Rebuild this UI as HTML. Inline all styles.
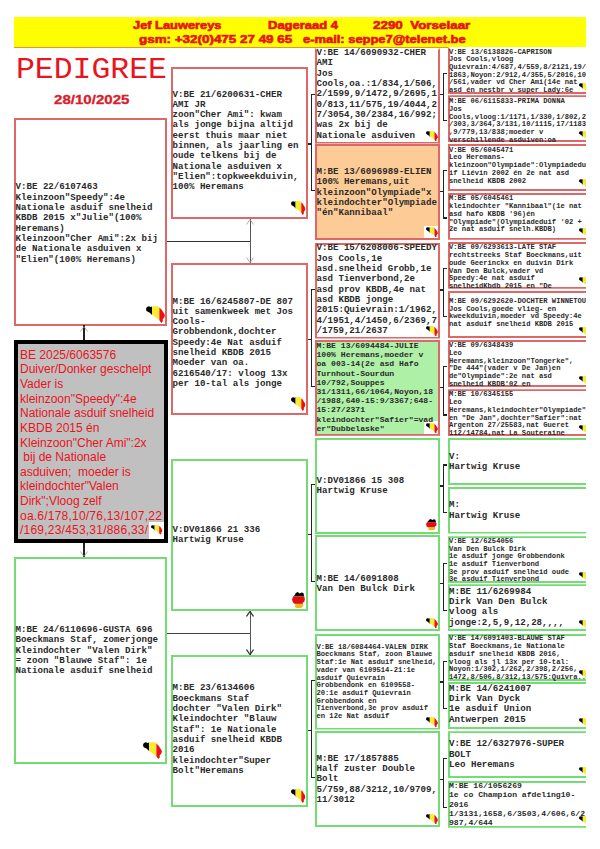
<!DOCTYPE html>
<html><head><meta charset="utf-8">
<style>
html,body{margin:0;padding:0;background:#fff;width:600px;height:849px;overflow:hidden;position:relative}
.a{position:absolute}
.hdr{position:absolute;left:14px;top:17px;width:572px;height:30.5px;background:#ffff00;border-bottom:1.5px solid #f29030;box-sizing:border-box}
.ht{position:absolute;font-family:"Liberation Sans",sans-serif;font-weight:bold;font-size:11.5px;color:#e81414;white-space:pre;transform-origin:0 0;line-height:13px;-webkit-text-stroke:0.65px #e81414}
.b{position:absolute;box-sizing:border-box;clip-path:inset(0);background:#fff}
.t{position:absolute;z-index:1;font-family:"Liberation Mono",monospace;font-weight:bold;color:#2a2a2a;white-space:pre}
.r{border:2px solid #dc6868}
.g{border:2px solid #74dc74}
.fl{position:absolute;width:19px;height:17px}
.fs{position:absolute;width:14px;height:12px}
.de{position:absolute;width:14px;height:17px}
.fw{position:absolute;right:0;bottom:0;width:20px;height:18px;background:#fff}
.ln{position:absolute;background:#222}
.ar{position:absolute;width:8px;height:6px}
</style></head><body>
<svg width="0" height="0" style="position:absolute">
<defs>
<clipPath id="bec" clipPathUnits="userSpaceOnUse"><path d="M0 3L1 1L3 0.3L5 1L6.3 0.5L10 0L13 0.5L14.2 2L16 3.5L17.5 6L19 8.5L20 11L19 13L17.5 15L17.8 17L16 19L14.5 16.5L13 15L10 12.5L7.5 10.5L6 9.8L4 7.5L2 6.5L0.5 5.5Z"/></clipPath>
<symbol id="be" viewBox="0 0 20 19" preserveAspectRatio="none"><g clip-path="url(#bec)"><rect x="0" y="0" width="6.3" height="19" fill="#000"/><rect x="6.3" y="0" width="7.8" height="19" fill="#f8ec30"/><rect x="14.1" y="0" width="6" height="19" fill="#ee1010"/></g></symbol>
<clipPath id="dec" clipPathUnits="userSpaceOnUse"><path d="M4 1L6 0L8 1.5L10 0.5L12 1L12.5 4L13.5 7L13 10L11 11.5L12 14L10 16.5L6 17L3 16L3.5 13L1 11L0 8L1 5L3 3Z"/></clipPath>
<symbol id="de" viewBox="0 0 14 17" preserveAspectRatio="none"><g clip-path="url(#dec)"><rect x="0" y="0" width="14" height="4.6" fill="#000"/><rect x="0" y="4.6" width="14" height="7.8" fill="#e01010"/><rect x="0" y="12.4" width="14" height="4.6" fill="#f0b820"/></g></symbol>
</defs></svg>

<div class="hdr"></div>
<div class="ht" style="left:132.7px;top:18.9px;transform:scaleX(1.116)">Jef Lauwereys</div>
<div class="ht" style="left:267.5px;top:18.9px;transform:scaleX(1.129)">Dageraad 4</div>
<div class="ht" style="left:373.3px;top:18.9px;transform:scaleX(1.165)">2290  Vorselaar</div>
<div class="ht" style="left:138.7px;top:33px;transform:scaleX(1.166)">gsm: +32(0)475 27 49 65</div>
<div class="ht" style="left:303.3px;top:33px;transform:scaleX(1.123)">e-mail: seppe7@telenet.be</div>
<div class="a" style="left:16px;top:53.5px;font-family:'Liberation Mono',monospace;font-size:28.6px;line-height:34px;color:#e8141e;white-space:pre;transform:scaleX(1.10);transform-origin:0 0">PEDIGREE</div>
<div class="a" style="left:54px;top:92px;font-family:'Liberation Sans',sans-serif;font-weight:bold;font-size:13px;line-height:15px;color:#d8202a;white-space:pre;transform:scaleX(1.16);transform-origin:0 0;-webkit-text-stroke:0.3px #d8202a">28/10/2025</div>

<div class="b r" style="left:14px;top:118px;width:153px;height:208px;"><div class="t" style="top:62.30px;left:-0.5px;font-size:9.15px;line-height:10.33px">V:BE 22/6107463
Kleinzoon"Speedy":4e
Nationale asduif snelheid
KBDB 2015 x"Julie"(100%
Heremans)
Kleinzoon"Cher Ami":2x bij
de Nationale asduiven x
"Elien"(100% Heremans)</div><svg class="a" style="right:0.5px;bottom:1.5px;width:19px;height:17px"><use href="#be"/></svg></div>
<div class="b g" style="left:14px;top:557px;width:153px;height:207px;"><div class="t" style="top:65.90px;left:-0.5px;font-size:9.15px;line-height:10.33px">M:BE 24/6110696-GUSTA 696
Boeckmans Staf, zomerjonge
Kleindochter "Valen Dirk"
= zoon "Blauwe Staf": 1e
Nationale asduif snelheid</div><svg class="a" style="right:3px;bottom:3px;width:19px;height:17px"><use href="#be"/></svg></div>
<div class="b r" style="left:171px;top:67px;width:137px;height:152px;"><div class="t" style="top:20.50px;left:-0.5px;font-size:9.15px;line-height:10.33px">V:BE 21/6200631-CHER
AMI JR
zoon"Cher Ami": kwam
als jonge bijna altijd
eerst thuis maar niet
binnen, als jaarling en
oude telkens bij de
Nationale asduiven x
"Elien":topkweekduivin,
100% Heremans</div><svg class="a" style="right:0.5px;bottom:1.7px;width:14.6px;height:14px"><use href="#be"/></svg></div>
<div class="b r" style="left:171px;top:263px;width:137px;height:152px;"><div class="t" style="top:31.50px;left:-0.5px;font-size:9.15px;line-height:10.33px">M:BE 16/6245807-DE 807
uit samenkweek met Jos
Cools-
Grobbendonk,dochter
Speedy:4e Nat asduif
snelheid KBDB 2015
Moeder van oa.
6216540/17: vloog 13x
per 10-tal als jonge</div><svg class="a" style="right:0.5px;bottom:1.7px;width:14.6px;height:14px"><use href="#be"/></svg></div>
<div class="b g" style="left:171px;top:459px;width:137px;height:152px;"><div class="t" style="top:63.60px;left:-0.5px;font-size:9.15px;line-height:10.33px">V:DV01866 21 336
Hartwig Kruse</div><svg class="a" style="right:1px;bottom:0.7px;width:13.4px;height:16.3px"><use href="#de"/></svg></div>
<div class="b g" style="left:171px;top:655px;width:137px;height:152px;"><div class="t" style="top:26.30px;left:-0.5px;font-size:9.15px;line-height:10.33px">M:BE 23/6134606
Boeckmans Staf
dochter "Valen Dirk"
Kleindochter "Blauw
Staf": 1e Nationale
asduif snelheid KBDB
2016
kleindochter"Super
Bolt"Heremans</div><svg class="a" style="right:0.5px;bottom:1.7px;width:14.6px;height:14px"><use href="#be"/></svg></div>
<div class="b r" style="left:315px;top:47.5px;width:125px;height:96px;border-top-color:transparent;"><div class="t" style="top:-1.60px;left:-0.5px;font-size:9.15px;line-height:10.33px">V:BE 14/6090932-CHER
AMI
Jos
Cools,oa.:1/834,1/506,
2/1599,9/1472,9/2695,1
0/813,11/575,19/4044,2
7/3054,30/2384,16/992;
was 2x bij de
Nationale asduiven</div><svg class="a" style="right:0px;bottom:0.5px;width:12px;height:10.5px"><use href="#be"/></svg></div>
<div class="b r" style="left:315px;top:144px;width:125px;height:96px;background:#fdcb96;"><div class="t" style="top:21.00px;left:-0.5px;font-size:9.15px;line-height:10.33px">M:BE 13/6096989-ELIEN
100% Heremans,uit
kleinzoon"Olympiade"x
kleindochter"Olympiade
"én"Kannibaal"</div><div class="a" style="right:0;bottom:0;width:14.5px;height:12.5px;background:#fff"><svg class="a" style="right:0px;bottom:0.5px;width:12px;height:10.5px"><use href="#be"/></svg></div></div>
<div class="b r" style="left:315px;top:242.5px;width:125px;height:96px;"><div class="t" style="top:-1.10px;left:-0.5px;font-size:9.15px;line-height:10.33px">V:BE 15/6208006-SPEEDY
Jos Cools,1e
asd.snelheid Grobb,1e
asd Tienverbond,2e
asd prov KBDB,4e nat
asd KBDB jonge
2015:Quievrain:1/1962,
4/1951,4/1450,6/2369,7
/1759,21/2637</div><svg class="a" style="right:0px;bottom:0.5px;width:12px;height:10.5px"><use href="#be"/></svg></div>
<div class="b r" style="left:315px;top:339.7px;width:125px;height:96px;background:#aef0a6;"><div class="t" style="top:-0.80px;left:-0.5px;font-size:8.1px;line-height:9.2px">M:BE 13/6094484-JULIE
100% Heremans,moeder v
oa 003-14(2e asd Hafo
Turnhout-Sourdun
10/792,Souppes
31/1311,66/1064,Noyon,18
/1988,640-15:9/3367;648-
15:27/2371
kleindochter"Safier"=vad
er"Dubbelaske"</div><div class="a" style="right:0;bottom:0;width:14.5px;height:12.5px;background:#fff"><svg class="a" style="right:0px;bottom:0.5px;width:12px;height:10.5px"><use href="#be"/></svg></div></div>
<div class="b g" style="left:315px;top:438px;width:125px;height:96px;"><div class="t" style="top:36.10px;left:-0.5px;font-size:9.15px;line-height:10.33px">V:DV01866 15 308
Hartwig Kruse</div><svg class="a" style="right:1px;bottom:1px;width:11px;height:11.6px"><use href="#de"/></svg></div>
<div class="b g" style="left:315px;top:535px;width:125px;height:96px;"><div class="t" style="top:36.50px;left:-0.5px;font-size:9.15px;line-height:10.33px">M:BE 14/6091808
Van Den Bulck Dirk</div><svg class="a" style="right:0px;bottom:0.5px;width:12px;height:10.5px"><use href="#be"/></svg></div>
<div class="b g" style="left:315px;top:633.5px;width:125px;height:96px;"><div class="t" style="top:8.20px;left:-0.5px;font-size:7.15px;line-height:7.7px">V:BE 18/6084464-VALEN DIRK
Boeckmans Staf, zoon Blauwe
Staf:1e Nat asduif snelheid,
vader van 6109514-21:1e
asduif Quievrain
Grobbendonk en 6109558-
20:1e asduif Quievrain
Grobbendonk en
Tienverbond,3e prov asduif
en 12e Nat asduif</div><svg class="a" style="right:0px;bottom:0.5px;width:12px;height:10.5px"><use href="#be"/></svg></div>
<div class="b g" style="left:315px;top:731px;width:125px;height:96px;"><div class="t" style="top:20.80px;left:-0.5px;font-size:9.15px;line-height:10.33px">M:BE 17/1857885
Half zuster Double
Bolt
5/759,88/3212,10/9709,
11/3012</div><svg class="a" style="right:0px;bottom:0.5px;width:12px;height:10.5px"><use href="#be"/></svg></div>
<div class="b" style="left:14px;top:340px;width:154px;height:203px;border:4px solid #000;background:#c0c0c0"><div class="a" style="font-family:'Liberation Sans',sans-serif;font-size:12px;line-height:14.63px;color:#e8141e;white-space:pre;left:2px;top:3.8px">BE 2025/6063576
Duiver/Donker geschelpt
Vader is
kleinzoon"Speedy":4e
Nationale asduif snelheid
KBDB 2015 én
Kleinzoon"Cher Ami":2x
 bij de Nationale
asduiven;  moeder is
kleindochter"Valen
Dirk";Vloog zelf
<span style="letter-spacing:0.22px">oa.6/178,10/76,13/107,22
/169,23/453,31/886,33/</span></div><div class="a" style="right:0;bottom:0;width:15px;height:17px;background:#fff"><svg class="a" style="right:1.2px;bottom:3.8px;width:11.6px;height:9.8px"><use href="#be"/></svg></div></div>

<div class="a" style="left:0;top:0;width:586px;height:849px;overflow:hidden">
<div class="b r" style="left:447.5px;top:47px;width:152px;height:47px;border-top-color:transparent;"><div class="t" style="top:-0.40px;left:-0.5px;font-size:7.15px;line-height:7.7px">V:BE 13/6138826-CAPRISON
Jos Cools,vloog
Quievrain:4/687,4/559,8/2121,19/
1863,Noyon:2/912,4/355,5/2016,10
/561,vader vd Cher Ami(14e nat
asd én nestbr v super Lady:6e
nat asd</div><svg class="a" style="left:129.3px;top:33.6px;width:12px;height:10.5px"><use href="#be"/></svg></div>
<div class="b r" style="left:447.5px;top:95.3px;width:152px;height:47px;"><div class="t" style="top:0.90px;left:-0.5px;font-size:7.15px;line-height:7.7px">M:BE 06/6115833-PRIMA DONNA
Jos
Cools,vloog:1/1171,1/330,1/802,2
/303,3/364,3/131,10/1115,17/1183
,9/779,13/838;moeder v
verschillende asduiven:oa
nat</div><svg class="a" style="left:129.3px;top:33.6px;width:12px;height:10.5px"><use href="#be"/></svg></div>
<div class="b r" style="left:447.5px;top:143.9px;width:152px;height:47px;"><div class="t" style="top:0.80px;left:-0.5px;font-size:7.15px;line-height:7.7px">V:BE 05/6045471
Leo Heremans-
kleinzoon"Olympiade":Olympiadedu
if Liévin 2002 én 2e nat asd
snelheid KBDB 2002</div><svg class="a" style="left:129.3px;top:33.6px;width:12px;height:10.5px"><use href="#be"/></svg></div>
<div class="b r" style="left:447.5px;top:192.7px;width:152px;height:47px;"><div class="t" style="top:0.80px;left:-0.5px;font-size:7.15px;line-height:7.7px">M:BE 05/6045461
kleindochter "Kannibaal"(1e nat
asd hafo KBDB '96)én
"Olympiade"(Olympiadeduif '02 +
2e nat asduif snelh.KBDB)</div><svg class="a" style="left:129.3px;top:33.6px;width:12px;height:10.5px"><use href="#be"/></svg></div>
<div class="b r" style="left:447.5px;top:241.7px;width:152px;height:47px;"><div class="t" style="top:0.80px;left:-0.5px;font-size:7.15px;line-height:7.7px">V:BE 09/6293613-LATE STAF
rechtstreeks Staf Boeckmans,uit
oude Geerinckx en duivin Dirk
Van Den Bulck,vader vd
Speedy:4e nat asduif
snelheidKbdb 2015 en "De
Jan"</div><svg class="a" style="left:129.3px;top:33.6px;width:12px;height:10.5px"><use href="#be"/></svg></div>
<div class="b r" style="left:447.5px;top:291px;width:152px;height:47px;"><div class="t" style="top:4.80px;left:-0.5px;font-size:7.15px;line-height:7.7px">M:BE 09/6292620-DOCHTER WINNETOU
Jos Cools,goede vlieg- en
kweekduivin,moeder vd Speedy:4e
nat asduif snelheid KBDB 2015</div><svg class="a" style="left:129.3px;top:33.6px;width:12px;height:10.5px"><use href="#be"/></svg></div>
<div class="b r" style="left:447.5px;top:340px;width:152px;height:47px;"><div class="t" style="top:0.30px;left:-0.5px;font-size:7.15px;line-height:7.7px">V:BE 09/6348439
Leo
Heremans,kleinzoon"Tongerke",
"De 444"(vader v De Jan)en
de"Olympiade":2e nat asd
snelheid KBDB'02 en
nat</div><svg class="a" style="left:129.3px;top:33.6px;width:12px;height:10.5px"><use href="#be"/></svg></div>
<div class="b r" style="left:447.5px;top:389.3px;width:152px;height:47px;"><div class="t" style="top:0.10px;left:-0.5px;font-size:7.15px;line-height:7.7px">M:BE 10/6345155
Leo
Heremans,kleindochter"Olympiade"
en "De Jan",dochter"Safier":nat
Argenton 27/25583,nat Gueret
112/14784,nat La Souteraine
nat</div><svg class="a" style="left:129.3px;top:33.6px;width:12px;height:10.5px"><use href="#be"/></svg></div>
<div class="b g" style="left:447.5px;top:438px;width:152px;height:47px;"><div class="t" style="top:11.70px;left:-0.5px;font-size:9.15px;line-height:10.33px">V:
Hartwig Kruse</div></div>
<div class="b g" style="left:447.5px;top:486.5px;width:152px;height:47px;"><div class="t" style="top:11.90px;left:-0.5px;font-size:9.15px;line-height:10.33px">M:
Hartwig Kruse</div></div>
<div class="b g" style="left:447.5px;top:536.3px;width:152px;height:47px;"><div class="t" style="top:-0.50px;left:-0.5px;font-size:7.15px;line-height:7.7px">V:BE 12/6254056
Van Den Bulck Dirk
1e asduif jonge Grobbendonk
1e asduif Tienverbond
3e prov asduif snelheid oude
3e asduif Tienverbond</div><svg class="a" style="left:129.3px;top:33.6px;width:12px;height:10.5px"><use href="#be"/></svg></div>
<div class="b g" style="left:447.5px;top:584.3px;width:152px;height:47px;"><div class="t" style="top:0.50px;left:-0.5px;font-size:9.15px;line-height:10.33px">M:BE 11/6269984
Dirk Van Den Bulck
vloog als
jonge:2,5,9,12,28,,,,</div><svg class="a" style="left:129.3px;top:33.6px;width:12px;height:10.5px"><use href="#be"/></svg></div>
<div class="b g" style="left:447.5px;top:634.1px;width:152px;height:47px;"><div class="t" style="top:-0.70px;left:-0.5px;font-size:7.15px;line-height:7.7px">V:BE 14/6091403-BLAUWE STAF
Staf Boeckmans,1e Nationale
asduif snelheid KBDB 2016,
vloog als jl 13x per 10-tal:
Noyon:1/302,1/262,2/398,2/256,
1472,8/506,8/312,13/575:Quivra...</div><svg class="a" style="left:129.3px;top:33.6px;width:12px;height:10.5px"><use href="#be"/></svg></div>
<div class="b g" style="left:447.5px;top:682.1px;width:152px;height:47px;"><div class="t" style="top:-0.30px;left:-0.5px;font-size:9.15px;line-height:10.33px">M:BE 14/6241007
Dirk Van Dyck
1e asduif Union
Antwerpen 2015</div><svg class="a" style="left:129.3px;top:33.6px;width:12px;height:10.5px"><use href="#be"/></svg></div>
<div class="b g" style="left:447.5px;top:731.2px;width:152px;height:47px;"><div class="t" style="top:6.10px;left:-0.5px;font-size:9.15px;line-height:10.33px">V:BE 12/6327976-SUPER
BOLT
Leo Heremans</div><svg class="a" style="left:129.3px;top:33.6px;width:12px;height:10.5px"><use href="#be"/></svg></div>
<div class="b g" style="left:447.5px;top:780.8px;width:152px;height:47px;"><div class="t" style="top:-1.60px;left:-0.5px;font-size:8.1px;line-height:9.2px">M:BE 16/1056269
1e co Champion afdeling10-
2016
1/3131,1658,6/3503,4/606,6/2
987,4/644</div><svg class="a" style="left:129.3px;top:33.6px;width:12px;height:10.5px"><use href="#be"/></svg></div>
</div>
<div class="ln" style="left:83px;top:325px;width:1.5px;height:15px;"></div>
<svg class="ar" style="left:79.75px;top:325.5px" viewBox="0 0 8 6"><path d="M0.5 5.5L4 0.5L7.5 5.5" fill="none" stroke="#999" stroke-width="0.8"/></svg>
<div class="ln" style="left:83px;top:542.5px;width:1.5px;height:14.5px;"></div>
<svg class="ar" style="left:79.75px;top:551px" viewBox="0 0 8 6"><path d="M0.5 0.5L4 5.5L7.5 0.5" fill="none" stroke="#999" stroke-width="0.8"/></svg>
<div class="ln" style="left:167px;top:241px;width:83px;height:1px;background:#333;"></div>
<div class="ln" style="left:249.5px;top:218.5px;width:1.5px;height:44.5px;background:#555;"></div>
<svg class="ar" style="left:246px;top:219px" viewBox="0 0 8 6"><path d="M0.5 5.5L4 0.5L7.5 5.5" fill="none" stroke="#999" stroke-width="0.8"/></svg>
<svg class="ar" style="left:246px;top:256.5px" viewBox="0 0 8 6"><path d="M0.5 0.5L4 5.5L7.5 0.5" fill="none" stroke="#999" stroke-width="0.8"/></svg>
<div class="ln" style="left:167px;top:633px;width:83px;height:1px;background:#444;"></div>
<div class="ln" style="left:249.5px;top:610.5px;width:1.5px;height:44.5px;background:#555;"></div>
<svg class="ar" style="left:246.2px;top:611px" viewBox="0 0 8 6"><path d="M0.5 5.5L4 0.5L7.5 5.5" fill="none" stroke="#333" stroke-width="1.3"/></svg>
<svg class="ar" style="left:246.2px;top:648.5px" viewBox="0 0 8 6"><path d="M0.5 0.5L4 5.5L7.5 0.5" fill="none" stroke="#333" stroke-width="1.3"/></svg>
<div class="ln" style="left:308px;top:143.4px;width:3.3000000000000114px;height:1.2px;"></div><div class="ln" style="left:310.7px;top:93.8px;width:1.2px;height:97.70000000000002px;"></div><div class="ln" style="left:311.3px;top:93.8px;width:3.6999999999999886px;height:1.2px;"></div><div class="ln" style="left:311.3px;top:190.3px;width:3.6999999999999886px;height:1.2px;"></div>
<div class="ln" style="left:308px;top:338.76666666666665px;width:3.3000000000000114px;height:1.2px;"></div><div class="ln" style="left:310.7px;top:288.8px;width:1.2px;height:98.39999999999999px;"></div><div class="ln" style="left:311.3px;top:288.8px;width:3.6999999999999886px;height:1.2px;"></div><div class="ln" style="left:311.3px;top:386.0px;width:3.6999999999999886px;height:1.2px;"></div>
<div class="ln" style="left:308px;top:534.1333333333333px;width:3.3000000000000114px;height:1.2px;"></div><div class="ln" style="left:310.7px;top:484.3px;width:1.2px;height:98.19999999999995px;"></div><div class="ln" style="left:311.3px;top:484.3px;width:3.6999999999999886px;height:1.2px;"></div><div class="ln" style="left:311.3px;top:581.3px;width:3.6999999999999886px;height:1.2px;"></div>
<div class="ln" style="left:308px;top:729.5px;width:3.3000000000000114px;height:1.2px;"></div><div class="ln" style="left:310.7px;top:679.8px;width:1.2px;height:98.7px;"></div><div class="ln" style="left:311.3px;top:679.8px;width:3.6999999999999886px;height:1.2px;"></div><div class="ln" style="left:311.3px;top:777.3px;width:3.6999999999999886px;height:1.2px;"></div>
<div class="ln" style="left:440px;top:94.0px;width:3.3000000000000114px;height:1.2px;"></div><div class="ln" style="left:442.7px;top:72.5px;width:1.2px;height:48.5px;"></div><div class="ln" style="left:443.3px;top:72.5px;width:4.199999999999989px;height:1.2px;"></div><div class="ln" style="left:443.3px;top:119.8px;width:4.199999999999989px;height:1.2px;"></div>
<div class="ln" style="left:440px;top:190.72857142857143px;width:3.3000000000000114px;height:1.2px;"></div><div class="ln" style="left:442.7px;top:169.62857142857143px;width:1.2px;height:48.999999999999986px;"></div><div class="ln" style="left:443.3px;top:169.62857142857143px;width:4.199999999999989px;height:1.2px;"></div><div class="ln" style="left:443.3px;top:217.42857142857142px;width:4.199999999999989px;height:1.2px;"></div>
<div class="ln" style="left:440px;top:289.45714285714286px;width:3.3000000000000114px;height:1.2px;"></div><div class="ln" style="left:442.7px;top:267.65714285714284px;width:1.2px;height:49.500000000000014px;"></div><div class="ln" style="left:443.3px;top:267.65714285714284px;width:4.199999999999989px;height:1.2px;"></div><div class="ln" style="left:443.3px;top:315.95714285714286px;width:4.199999999999989px;height:1.2px;"></div>
<div class="ln" style="left:440px;top:386.8857142857143px;width:3.3000000000000114px;height:1.2px;"></div><div class="ln" style="left:442.7px;top:366.1857142857143px;width:1.2px;height:49.500000000000014px;"></div><div class="ln" style="left:443.3px;top:366.1857142857143px;width:4.199999999999989px;height:1.2px;"></div><div class="ln" style="left:443.3px;top:414.4857142857143px;width:4.199999999999989px;height:1.2px;"></div>
<div class="ln" style="left:440px;top:485.4142857142857px;width:3.3000000000000114px;height:1.2px;"></div><div class="ln" style="left:442.7px;top:464.4142857142857px;width:1.2px;height:48.7px;"></div><div class="ln" style="left:443.3px;top:464.4142857142857px;width:4.199999999999989px;height:1.2px;"></div><div class="ln" style="left:443.3px;top:511.9142857142857px;width:4.199999999999989px;height:1.2px;"></div>
<div class="ln" style="left:440px;top:582.6428571428571px;width:3.3000000000000114px;height:1.2px;"></div><div class="ln" style="left:442.7px;top:562.9428571428571px;width:1.2px;height:48.2px;"></div><div class="ln" style="left:443.3px;top:562.9428571428571px;width:4.199999999999989px;height:1.2px;"></div><div class="ln" style="left:443.3px;top:609.9428571428571px;width:4.199999999999989px;height:1.2px;"></div>
<div class="ln" style="left:440px;top:681.3714285714286px;width:3.3000000000000114px;height:1.2px;"></div><div class="ln" style="left:442.7px;top:660.9714285714286px;width:1.2px;height:48.2px;"></div><div class="ln" style="left:443.3px;top:660.9714285714286px;width:4.199999999999989px;height:1.2px;"></div><div class="ln" style="left:443.3px;top:707.9714285714286px;width:4.199999999999989px;height:1.2px;"></div>
<div class="ln" style="left:440px;top:779.1px;width:3.3000000000000114px;height:1.2px;"></div><div class="ln" style="left:442.7px;top:758.3000000000001px;width:1.2px;height:49.79999999999991px;"></div><div class="ln" style="left:443.3px;top:758.3000000000001px;width:4.199999999999989px;height:1.2px;"></div><div class="ln" style="left:443.3px;top:806.9px;width:4.199999999999989px;height:1.2px;"></div>
</body></html>
